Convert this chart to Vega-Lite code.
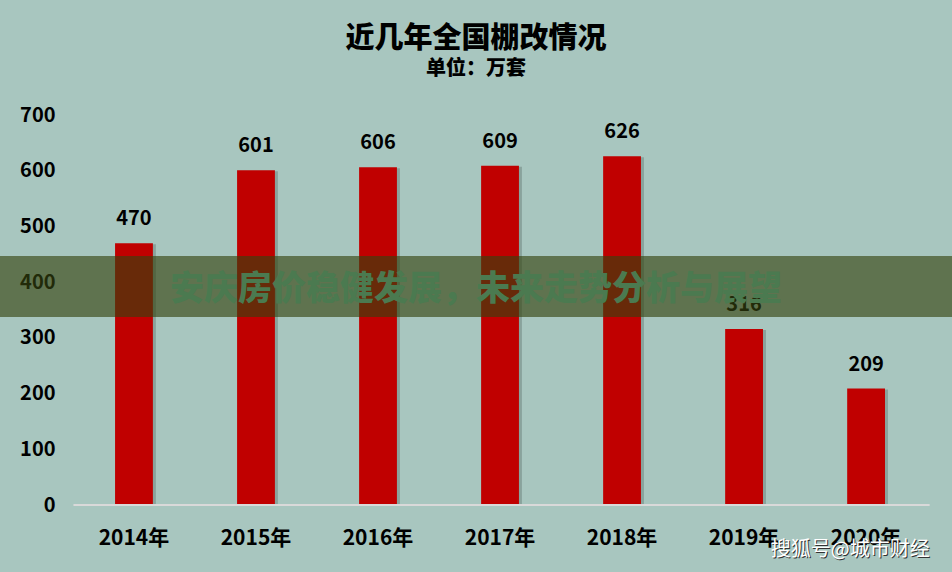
{
  "$schema": "https://vega.github.io/schema/vega-lite/v6.json",
  "width": 952,
  "height": 390,
  "autosize": {"type": "none"},
  "padding": {"left": 0, "right": 0, "top": 115, "bottom": 67},
  "background": "#a8c6bf",
  "title": {
    "text": "近几年全国棚改情况",
    "subtitle": "单位：万套",
    "font": "Noto Sans CJK SC",
    "subtitleFont": "Noto Sans CJK SC",
    "fontSize": 29,
    "subtitleFontSize": 20,
    "fontWeight": 900,
    "subtitleFontWeight": 900,
    "color": "#000000",
    "subtitleColor": "#000000",
    "anchor": "middle",
    "offset": 26,
    "subtitlePadding": 5
  },
  "config": {"view": {"stroke": null}},
  "data": {
    "values": [
      {"year": "2014年", "value": 470},
      {"year": "2015年", "value": 601},
      {"year": "2016年", "value": 606},
      {"year": "2017年", "value": 609},
      {"year": "2018年", "value": 626},
      {"year": "2019年", "value": 316},
      {"year": "2020年", "value": 209}
    ]
  },
  "layer": [
    {
      "mark": {"type": "bar", "color": "#4f625d", "opacity": 0.35, "xOffset": 3, "yOffset": 1},
      "encoding": {
        "x": {"field": "year", "type": "nominal", "sort": null,
              "scale": {"paddingInner": 0.69, "paddingOuter": 0.746, "align": 0.632},
              "axis": {"orient": "bottom", "domain": false, "ticks": false, "labelPadding": 22, "labelFontSize": 21, "labelFont": "Noto Sans CJK SC", "labelFontWeight": "bold", "labelColor": "#000000", "labelAngle": 0, "title": null, "grid": false}},
        "y": {"field": "value", "type": "quantitative",
              "scale": {"domain": [0, 700], "nice": false},
              "axis": {"orient": "left", "offset": -55, "values": [0, 100, 200, 300, 400, 500, 600, 700], "domain": false, "ticks": false, "grid": false, "labelPadding": 0, "labelFontSize": 20, "labelFont": "Noto Sans CJK SC", "labelFontWeight": "bold", "labelColor": "#000000", "title": null}}
      }
    },
    {
      "mark": {"type": "bar", "color": "#c00000"},
      "encoding": {
        "x": {"field": "year", "type": "nominal", "sort": null},
        "y": {"field": "value", "type": "quantitative"}
      }
    },
    {
      "mark": {"type": "text", "baseline": "bottom", "dy": -14, "fontSize": 20, "fontWeight": "bold", "font": "Noto Sans CJK SC", "color": "#000000"},
      "encoding": {
        "x": {"field": "year", "type": "nominal", "sort": null},
        "y": {"field": "value", "type": "quantitative"},
        "text": {"field": "value", "type": "quantitative"}
      }
    },
    {
      "data": {"values": [{}]},
      "mark": {"type": "rule", "color": "#d9d9d9", "strokeWidth": 2},
      "encoding": {
        "x": {"datum": "2014年", "bandPosition": -1.1},
        "x2": {"datum": "2020年", "bandPosition": 2.18},
        "y": {"datum": 0}
      }
    },
    {
      "data": {"values": [{}]},
      "mark": {"type": "rect", "color": "#34430e", "opacity": 0.63},
      "encoding": {
        "y": {"datum": 447},
        "y2": {"datum": 337.5}
      }
    },
    {
      "data": {"values": [{}]},
      "mark": {"type": "text", "fontSize": 34, "fontWeight": 900, "font": "Noto Sans CJK SC", "color": "#4b7a50", "baseline": "middle", "align": "center"},
      "encoding": {
        "y": {"datum": 386},
        "text": {"value": "安庆房价稳健发展，未来走势分析与展望"}
      }
    },
    {
      "data": {"values": [{}]},
      "mark": {"type": "text", "fontSize": 20, "font": "Noto Sans CJK SC", "color": "#333333", "align": "right", "baseline": "middle", "dx": 1, "dy": 1},
      "encoding": {
        "x": {"datum": "2020年", "bandPosition": 2.18},
        "y": {"datum": -81},
        "text": {"value": "搜狐号@城市财经"}
      }
    },
    {
      "data": {"values": [{}]},
      "mark": {"type": "text", "fontSize": 20, "font": "Noto Sans CJK SC", "color": "#ffffff", "align": "right", "baseline": "middle"},
      "encoding": {
        "x": {"datum": "2020年", "bandPosition": 2.18},
        "y": {"datum": -81},
        "text": {"value": "搜狐号@城市财经"}
      }
    }
  ]
}
